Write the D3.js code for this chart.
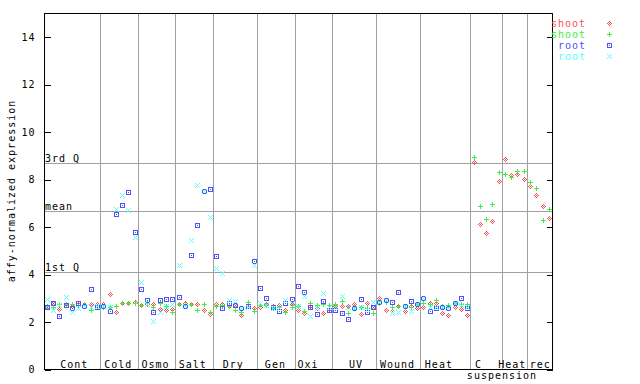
<!DOCTYPE html>
<html><head><meta charset="utf-8">
<script src="https://cdn.jsdelivr.net/npm/d3@7"></script>
<style>
body{margin:0;background:#fff}
svg{display:block}
text{font-family:"DejaVu Sans Mono",monospace;font-size:10px;letter-spacing:1px}
</style>
</head><body>
<svg id="c" width="640" height="384"></svg>
<script>
// ---- data ----
const groups = ["Cont","Cold","Osmo","Salt","Dry","Gen","Oxi","UV","Wound","Heat","C\nsuspension","Heat","rec"];
const groupSizes = [9,6,6,6,7,6,6,7,7,8,5,4,4];
const labelAt = [5.3,12.3,18.25,24.2,30.65,37.35,42.55,50.2,56.8,63.4,69.7,75.1,79.55];
const subLabelAt = [null,null,null,null,null,null,null,null,null,null,73.45,null,null];

const yTicks = [0,2,4,6,8,10,12,14];
const refNames = ["3rd Q","mean","1st Q"];
const refValues = [8.7,6.64,4.08];

const seriesNames = ["shoot","shoot","root","root"];

const shootRed = [2.63,2.78,2.54,2.72,2.64,2.74,2.74,2.74,2.74,
  2.75,3.17,2.40,2.80,2.80,2.82,
  2.71,2.74,2.74,2.52,2.50,2.54,
  2.74,2.80,2.74,2.72,2.47,2.33,
  2.74,2.74,2.66,2.68,2.29,2.70,2.57,
  2.62,2.74,2.67,2.70,2.50,2.74,
  2.50,2.38,2.67,2.55,2.37,2.52,
  2.67,2.65,2.66,2.72,2.33,2.76,2.62,
  3.01,2.50,2.43,2.66,2.43,2.67,2.56,
  2.62,2.77,2.77,2.36,2.28,2.62,2.53,2.28,
  8.72,6.12,5.74,6.24,7.93,
  8.86,8.16,8.23,8.02,
  7.72,7.34,6.88,6.37];
const shootGreen = [2.67,2.61,2.74,2.73,2.74,2.70,2.72,2.50,2.63,
  2.63,2.63,2.67,2.78,2.80,2.80,
  2.71,2.78,2.63,2.78,2.64,2.39,
  2.74,2.74,2.74,2.50,2.74,2.39,
  2.64,2.68,2.64,2.50,2.39,2.81,2.46,
  2.70,2.70,2.55,2.62,2.41,2.63,
  2.67,2.43,2.76,2.68,2.72,2.68,
  2.72,2.88,2.38,2.62,2.60,2.58,2.37,
  2.76,2.82,2.62,2.67,2.60,2.62,2.72,
  2.76,2.72,2.92,2.66,2.68,2.76,2.74,2.72,
  8.95,6.88,6.33,6.97,8.31,
  8.23,8.07,8.35,8.35,
  7.89,7.64,6.26,6.75];
const rootBlue = [2.63,2.80,2.25,2.71,2.59,2.76,2.64,3.35,2.63,
  2.64,2.46,6.55,6.89,7.47,5.78,
  3.39,2.90,2.40,2.92,2.97,2.97,
  3.04,2.66,4.81,6.07,7.51,7.59,
  4.77,2.59,2.78,2.68,2.59,2.67,4.57,
  3.42,3.00,2.62,2.45,2.80,2.95,
  3.50,3.26,2.63,2.32,2.87,2.50,
  2.50,2.37,2.12,2.58,2.95,2.41,2.61,
  2.81,2.91,2.82,3.26,2.66,2.86,2.75,
  3.00,2.45,2.59,2.62,2.59,2.79,3.00,2.59];
const rootCyan = [2.97,2.50,2.70,3.05,2.39,2.57,2.64,2.62,2.66,
  2.64,2.62,6.75,7.34,6.69,5.57,
  3.67,2.72,2.04,2.39,2.64,2.74,
  4.39,2.66,5.44,7.76,7.50,6.41,
  4.24,4.05,2.92,2.85,2.59,2.62,4.37,
  2.78,2.70,2.55,2.56,2.92,2.80,
  2.67,3.07,2.25,2.58,3.20,2.60,
  2.60,3.08,2.62,2.58,2.63,2.53,2.83,
  2.81,2.90,2.38,2.42,2.66,2.43,2.72,
  3.00,2.62,2.60,2.63,2.58,2.80,2.70,2.60];

// ---- styles ----
const colors = ["#ff5050","#40f040","#5050ff","#50ffff"];
const shapes = {
  diamond: [[0,-2],[-1,-1],[1,-1],[-2,0],[0,0],[2,0],[-1,1],[1,1],[0,2]],
  plus: [[0,-2],[0,-1],[-2,0],[-1,0],[0,0],[1,0],[2,0],[0,1],[0,2]],
  square: [[-2,-2],[-1,-2],[0,-2],[1,-2],[2,-2],[-2,2],[-1,2],[0,2],[1,2],[2,2],
           [-2,-1],[-2,0],[-2,1],[2,-1],[2,0],[2,1],[0,0]],
  cross: [[-2,-2],[-1,-1],[0,0],[1,1],[2,2],[2,-2],[1,-1],[-1,1],[-2,2]]
};
const seriesShapes = ["diamond","plus","square","cross"];
const seriesData = [shootRed, shootGreen, rootBlue, rootCyan];

const svg = d3.select("#c");
const x = d3.scaleLinear().domain([0.56, 81.5]).range([44.5, 552.5]);
const y = d3.scaleLinear().domain([0, 15]).range([369.5, 13.5]);
const grid = "#a0a0a0";

function markerPath(cx, cy, shape){
  return shapes[shape].map(([dx,dy]) => `M${cx+dx},${cy+dy}h1v1h-1z`).join("");
}

// group boundaries
const bounds = [];
let acc = 0;
groupSizes.forEach((n,i) => { acc += n; if (i < groupSizes.length-1) bounds.push(acc + 0.5); });

const gGrid = svg.append("g").attr("shape-rendering","crispEdges");
gGrid.selectAll("line.v").data(bounds).join("line")
  .attr("x1", d => Math.floor(x(d))+0.5).attr("x2", d => Math.floor(x(d))+0.5)
  .attr("y1", y(15)).attr("y2", y(0))
  .attr("stroke", grid).attr("stroke-width",1);
gGrid.selectAll("line.h").data(refValues).join("line")
  .attr("x1", x.range()[0]).attr("x2", x.range()[1])
  .attr("y1", d => Math.floor(y(d))+0.5).attr("y2", d => Math.floor(y(d))+0.5)
  .attr("stroke", grid).attr("stroke-width",1);

// reference labels
svg.selectAll("text.ref").data(refValues).join("text")
  .attr("x", 45).attr("y", d => Math.floor(y(d)) - 1)
  .attr("fill","#000").text((d,i) => refNames[i]);

// axes
const axL = svg.append("g").attr("transform","translate(44.5,0)")
  .call(d3.axisLeft(y).tickValues(yTicks).tickSize(-6).tickPadding(9));
axL.select(".domain").remove();
axL.attr("shape-rendering","crispEdges");
axL.selectAll("text").attr("font-family",null).attr("font-size",null).style("font-family",'"DejaVu Sans Mono",monospace').style("font-size","10px").attr("fill","#000");
axL.selectAll("line").attr("stroke","#000");
const axR = svg.append("g").attr("transform","translate(552.5,0)")
  .call(d3.axisRight(y).tickValues(yTicks).tickSize(-6).tickFormat(""));
axR.select(".domain").remove();
axR.attr("shape-rendering","crispEdges");
axR.selectAll("line").attr("stroke","#000");

// box
svg.append("rect").attr("x",44.5).attr("y",13.5).attr("width",508).attr("height",356)
  .attr("fill","none").attr("stroke","#000").attr("shape-rendering","crispEdges");

// y label
svg.append("text").attr("transform","translate(15,191) rotate(-90)")
  .attr("text-anchor","middle").attr("fill","#000").text("affy-normalized expression");

// category labels
groups.forEach((name,i) => {
  const lines = name.split("\n");
  svg.append("text").attr("x", x(labelAt[i])).attr("y", 368)
    .attr("text-anchor","middle").attr("fill","#000").text(lines[0]);
  if (lines[1]) {
    svg.append("text").attr("x", x(subLabelAt[i])).attr("y", 379)
      .attr("text-anchor","middle").attr("fill","#000").text(lines[1]);
  }
});

// points
const gPts = svg.append("g");
seriesData.forEach((vals, s) => {
  gPts.append("g").selectAll("path").data(vals).join("path")
    .attr("d", (v,i) => markerPath(Math.floor(x(i+1)), Math.floor(y(v)), seriesShapes[s]))
    .attr("fill", colors[s]);
});

// legend
seriesNames.forEach((n,s) => {
  svg.append("text").attr("x",586).attr("y",27 + s*11).attr("text-anchor","end")
    .attr("fill",colors[s]).text(n);
  svg.append("path").attr("d", markerPath(609, 23 + s*11, seriesShapes[s])).attr("fill", colors[s]);
});
</script>
</body></html>
